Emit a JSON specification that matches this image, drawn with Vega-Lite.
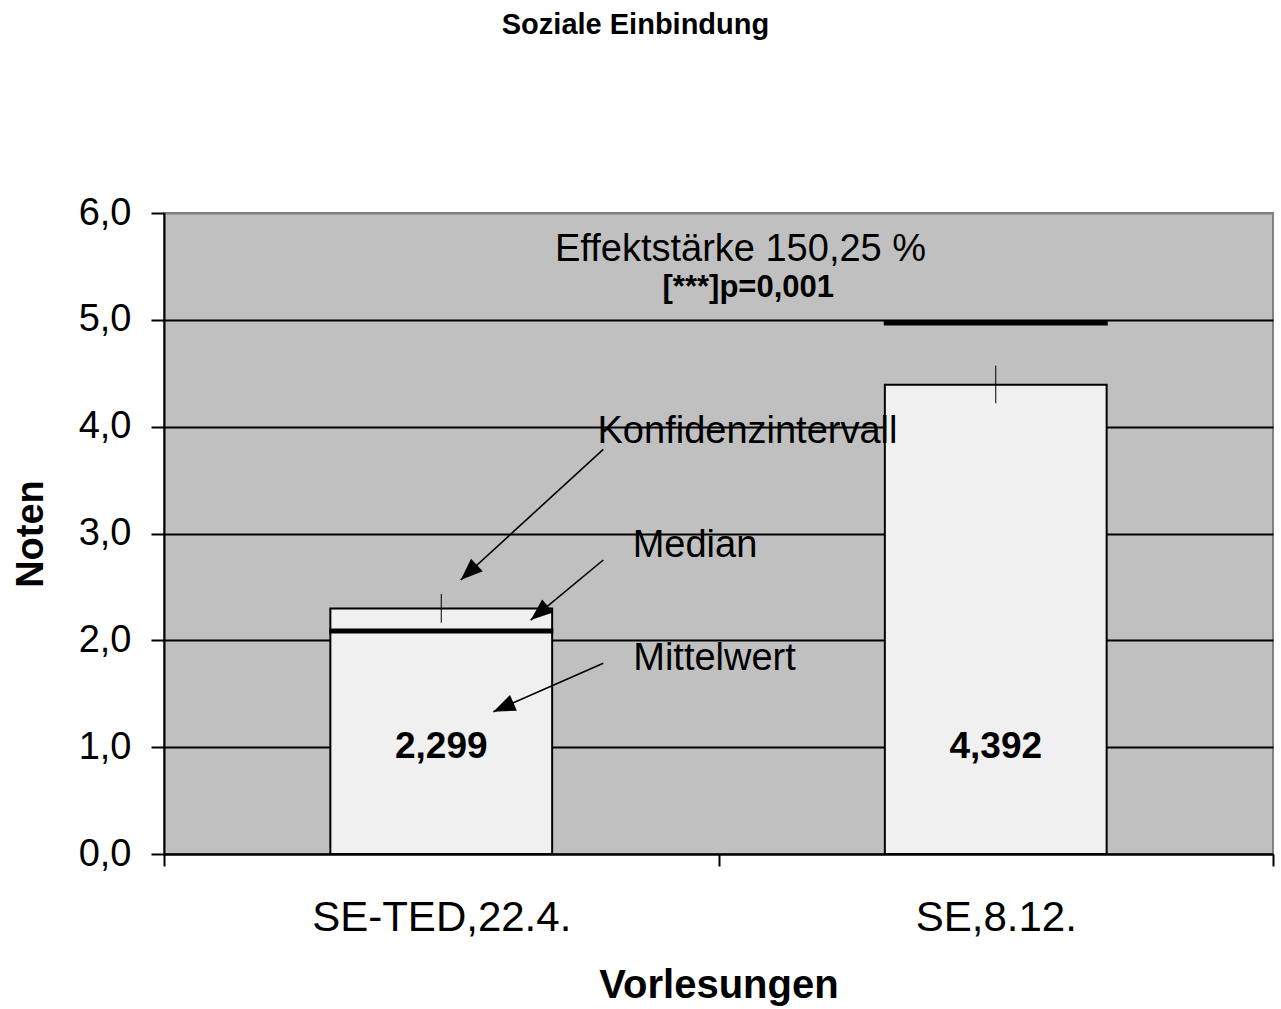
{
  "$schema": "https://vega.github.io/schema/vega-lite/v6.json",
  "width": 1109,
  "height": 641,
  "autosize": {"type": "none"},
  "padding": {"left": 164, "top": 213, "right": 8, "bottom": 155},
  "background": "white",
  "config": {
    "font": "Liberation Sans",
    "locale": {"number": {"decimal": ",", "thousands": ".", "grouping": [3], "currency": ["", " €"]}},
    "view": {"fill": "#c0c0c0", "stroke": "#808080", "strokeWidth": 2}
  },
  "title": {
    "text": "Soziale Einbindung",
    "font": "Liberation Sans",
    "fontSize": 29,
    "fontWeight": "bold",
    "color": "black",
    "anchor": "middle",
    "frame": "group",
    "baseline": "alphabetic",
    "offset": 131,
    "dx": -83
  },
  "datasets": {
    "bars": [
      {"lecture": "SE-TED,22.4.", "mean": 2.299, "median": 2.087, "ci_low": 2.165, "ci_high": 2.434},
      {"lecture": "SE,8.12.", "mean": 4.392, "median": 4.97, "ci_low": 4.219, "ci_high": 4.571}
    ],
    "notes": [
      {"text": "Effektstärke 150,25 %", "x": 1.0397, "y": 5.555},
      {"text": "Konfidenzintervall", "x": 1.0523, "y": 3.847},
      {"text": "Median", "x": 0.9576, "y": 2.782},
      {"text": "Mittelwert", "x": 0.9928, "y": 1.722}
    ],
    "pvalue": [
      {"text": "[***]p=0,001", "x": 1.0537, "y": 5.211}
    ],
    "arrows": [
      {"x": 0.7922, "y": 3.788, "x2": 0.5351, "y2": 2.565, "angle": 227.3},
      {"x": 0.7922, "y": 2.752, "x2": 0.6613, "y2": 2.19, "angle": 230.4},
      {"x": 0.7922, "y": 1.785, "x2": 0.5939, "y2": 1.332, "angle": 246.2}
    ]
  },
  "layer": [
    {
      "data": {"name": "bars"},
      "encoding": {
        "x": {
          "field": "lecture",
          "type": "nominal",
          "sort": null,
          "title": "Vorlesungen",
          "scale": {"paddingInner": 0, "paddingOuter": 0},
          "axis": {
            "tickBand": "extent",
            "labelAngle": 0,
            "labelFontSize": 42,
            "labelColor": "black",
            "labelPadding": 31,
            "labelLimit": 0,
            "labelOverlap": false,
            "tickSize": 12,
            "tickWidth": 2,
            "tickColor": "black",
            "domainColor": "black",
            "domainWidth": 2,
            "grid": false,
            "titleFontSize": 40,
            "titleFontWeight": "bold",
            "titleColor": "black",
            "titleY": 143,
            "titleBaseline": "alphabetic"
          }
        }
      },
      "layer": [
        {
          "mark": {"type": "bar", "width": {"band": 0.4}, "fill": "#f0f0f0", "stroke": "black", "strokeWidth": 2},
          "encoding": {
            "y": {
              "field": "mean",
              "type": "quantitative",
              "title": "Noten",
              "scale": {"domain": [0, 6], "nice": false},
              "axis": {
                "values": [0, 1, 2, 3, 4, 5, 6],
                "format": ".1f",
                "labelFontSize": 38,
                "labelColor": "black",
                "labelPadding": 20,
                "tickSize": 13,
                "tickWidth": 2,
                "tickColor": "black",
                "domainColor": "black",
                "domainWidth": 2,
                "grid": true,
                "gridColor": {"condition": {"test": "datum.value == 6", "value": "#808080"}, "value": "black"},
                "gridWidth": 2,
                "titleFontSize": 38,
                "titleFontWeight": "bold",
                "titleColor": "black",
                "titleX": -133,
                "titleBaseline": "middle"
              }
            }
          }
        },
        {
          "mark": {"type": "rule", "color": "black", "strokeWidth": 1},
          "encoding": {
            "y": {"field": "ci_low", "type": "quantitative", "title": "Noten"},
            "y2": {"field": "ci_high"}
          }
        },
        {
          "mark": {"type": "tick", "color": "black", "size": 224, "thickness": 5, "opacity": 1},
          "encoding": {
            "y": {"field": "median", "type": "quantitative", "title": "Noten"}
          }
        },
        {
          "mark": {"type": "text", "fontSize": 37, "fontWeight": "bold", "color": "black", "baseline": "alphabetic", "align": "center"},
          "encoding": {
            "y": {"datum": 0.9},
            "text": {"field": "mean", "type": "quantitative", "format": ".3f"}
          }
        }
      ]
    },
    {
      "encoding": {
        "x": {"type": "quantitative", "scale": {"domain": [0, 2], "nice": false, "zero": false}, "axis": null},
        "y": {"type": "quantitative", "scale": {"domain": [0, 6], "nice": false}, "axis": null}
      },
      "layer": [
        {
          "data": {"name": "notes"},
          "mark": {"type": "text", "fontSize": 38, "color": "black", "baseline": "alphabetic", "align": "center"},
          "encoding": {
            "x": {"field": "x", "type": "quantitative"},
            "y": {"field": "y", "type": "quantitative"},
            "text": {"field": "text"}
          }
        },
        {
          "data": {"name": "pvalue"},
          "mark": {"type": "text", "fontSize": 31, "fontWeight": "bold", "color": "black", "baseline": "alphabetic", "align": "center"},
          "encoding": {
            "x": {"field": "x", "type": "quantitative"},
            "y": {"field": "y", "type": "quantitative"},
            "text": {"field": "text"}
          }
        },
        {
          "data": {"name": "arrows"},
          "mark": {"type": "rule", "color": "black", "strokeWidth": 1.6},
          "encoding": {
            "x": {"field": "x", "type": "quantitative"},
            "y": {"field": "y", "type": "quantitative"},
            "x2": {"field": "x2"},
            "y2": {"field": "y2"}
          }
        },
        {
          "data": {"name": "arrows"},
          "mark": {"type": "point", "shape": "M0,0L-0.39,1L0.39,1Z", "size": 1936, "filled": true, "color": "black", "opacity": 1, "strokeWidth": 0},
          "encoding": {
            "x": {"field": "x2", "type": "quantitative"},
            "y": {"field": "y2", "type": "quantitative"},
            "angle": {"field": "angle", "type": "quantitative", "scale": null}
          }
        }
      ]
    }
  ],
  "resolve": {"scale": {"x": "independent", "y": "independent"}, "axis": {"x": "independent", "y": "independent"}}
}
